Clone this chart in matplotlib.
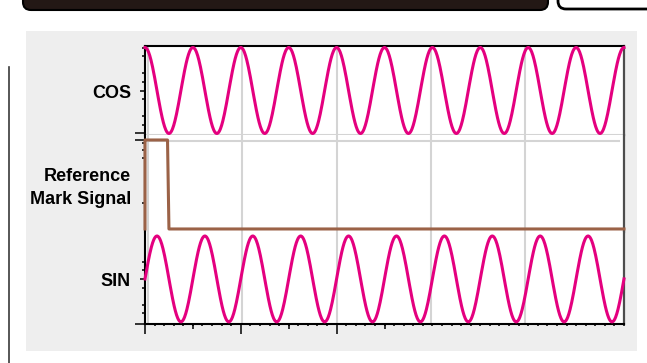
import matplotlib.pyplot as plt
import numpy as np
from matplotlib.patches import Rectangle, FancyBboxPatch
from matplotlib.lines import Line2D

W, H = 647, 363

# trace data (x in signal periods)
cycles = 10
pts_per_cycle = 120
ref_x = [0.0, 0.0, 0.47, 0.50, 10.0]
ref_y = [0, 1, 1, 0, 0]
grid_x = [0.06, 2.03, 4.0, 5.97, 7.94]

# left-axis tick marks
cos_minor = [1.0, 0.8, 0.4, 0.2, -0.2, -0.6, -0.8]
cos_mid = [0]
cos_long = [-1.0]
ref_minor = [0.97, 0.89, 0.8, 0.29]
ref_long = [1.0]
sin_minor = [0.4, 0.2, -0.2, -0.6, -0.8]
sin_mid = [0]
sin_long = [-1.05]
x_long = [0, 2, 4]
x_mid = [1, 3, 5]

MAGENTA = "#e4007f"
BROWN = "#9b6247"
GRID = "#d4d4d4"

plt.rcParams['font.family'] = ['Liberation Sans', 'DejaVu Sans']

fig = plt.figure(figsize=(W / 100, H / 100), dpi=100)
T = fig.dpi_scale_trans


def inch(px, py):
    return px / 100, (H - py) / 100


# background decoration
x0, y0 = inch(26, 351)
fig.add_artist(Rectangle((x0, y0), 611 / 100, 320 / 100, transform=T,
                         fc="#eeeeee", ec="none", zorder=-5))
fig.add_artist(FancyBboxPatch(inch(23, 10), 5.25, 0.3, transform=T,
                              boxstyle="round,pad=0,rounding_size=0.08",
                              fc="#231815", ec="black", lw=1.5, zorder=-4))
fig.add_artist(FancyBboxPatch(inch(558, 9), 1.2, 0.3, transform=T,
                              boxstyle="round,pad=0,rounding_size=0.08",
                              fc="white", ec="black", lw=2, zorder=-4))
fig.add_artist(Line2D([0.087, 0.087], [0, (H - 67) / 100], transform=T,
                      color="#3a3a3a", lw=1.2))


def make_ax(top, bottom, ylim):
    ax = fig.add_axes([145 / W, 1 - bottom / H, 479 / W, (bottom - top) / H])
    ax.set_xlim(0, cycles)
    ax.set_ylim(*ylim)
    for s in ax.spines.values():
        s.set_visible(False)
    ax.spines['left'].set_visible(True)
    ax.spines['left'].set_linewidth(1.5)
    ax.spines['right'].set_visible(True)
    ax.spines['right'].set_color("#4d4d4d")
    ax.spines['right'].set_linewidth(1.6)
    for gx in grid_x:
        ax.axvline(gx, color=GRID, lw=1.5, zorder=1)
    ax.tick_params(axis='x', which='both', bottom=False, labelbottom=False)
    ax.tick_params(axis='y', which='major', direction='out', length=7.2,
                   width=1.1, labelleft=False)
    ax.tick_params(axis='y', which='minor', direction='out', length=2.2,
                   width=1.1)
    return ax


def left_ticks(ax, major, minor, mid):
    ax.set_yticks(major)
    ax.set_yticks(minor, minor=True)
    if mid:
        sec = ax.secondary_yaxis('left')
        sec.set_yticks(mid)
        sec.set_yticklabels([])
        sec.spines['left'].set_visible(False)
        sec.tick_params(length=3.6, width=1.1, direction='out')


phase = np.linspace(0, cycles, cycles * pts_per_cycle + 1)

# COS
ax1 = make_ax(46, 135, (-1.035, 1.035))
ax1.spines['top'].set_visible(True)
ax1.spines['top'].set_linewidth(1.5)
ax1.spines['bottom'].set_visible(True)
ax1.spines['bottom'].set_color(GRID)
ax1.spines['bottom'].set_linewidth(1.5)
ax1.plot(phase, np.cos(2 * np.pi * phase), color=MAGENTA, lw=2.2, zorder=3,
         clip_on=False)
left_ticks(ax1, cos_long, cos_minor, cos_mid)

# Reference mark
ax2 = make_ax(135, 232, (-0.034, 1.056))
ax2.axhline(0.985, xmax=0.99, color=GRID, lw=1.5, zorder=1)
ax2.plot(ref_x, ref_y, color=BROWN, lw=2.2, zorder=3, clip_on=False)
left_ticks(ax2, ref_long, ref_minor, [])

# SIN
ax3 = make_ax(232, 324, (-1.047, 1.093))
ax3.spines['bottom'].set_visible(True)
ax3.spines['bottom'].set_linewidth(1.5)
ax3.plot(phase, np.sin(2 * np.pi * phase), color=MAGENTA, lw=2.2, zorder=3,
         clip_on=False)
left_ticks(ax3, sin_long, sin_minor, sin_mid)
ax3.tick_params(axis='x', which='both', bottom=True, labelbottom=False,
                direction='out', width=1.1)
ax3.set_xticks(x_long)
ax3.set_xticks(np.arange(0, cycles + 0.01, 0.2), minor=True)
ax3.tick_params(axis='x', which='major', length=7.2)
ax3.tick_params(axis='x', which='minor', length=1.5)
secx = ax3.secondary_xaxis('bottom')
secx.set_xticks(x_mid)
secx.set_xticklabels([])
secx.spines['bottom'].set_visible(False)
secx.tick_params(length=3.6, width=1.1, direction='out')

# row labels
lab = dict(ha='right', va='baseline', fontsize=13, fontweight='bold',
           transform=T)
fig.text(*inch(131, 98), "COS", **lab)
fig.text(*inch(131, 181), "Reference", **lab)
fig.text(*inch(131, 203.7), "Mark Signal", **lab)
fig.text(*inch(131, 286), "SIN", **lab)

fig.savefig("out.png", dpi=100)
